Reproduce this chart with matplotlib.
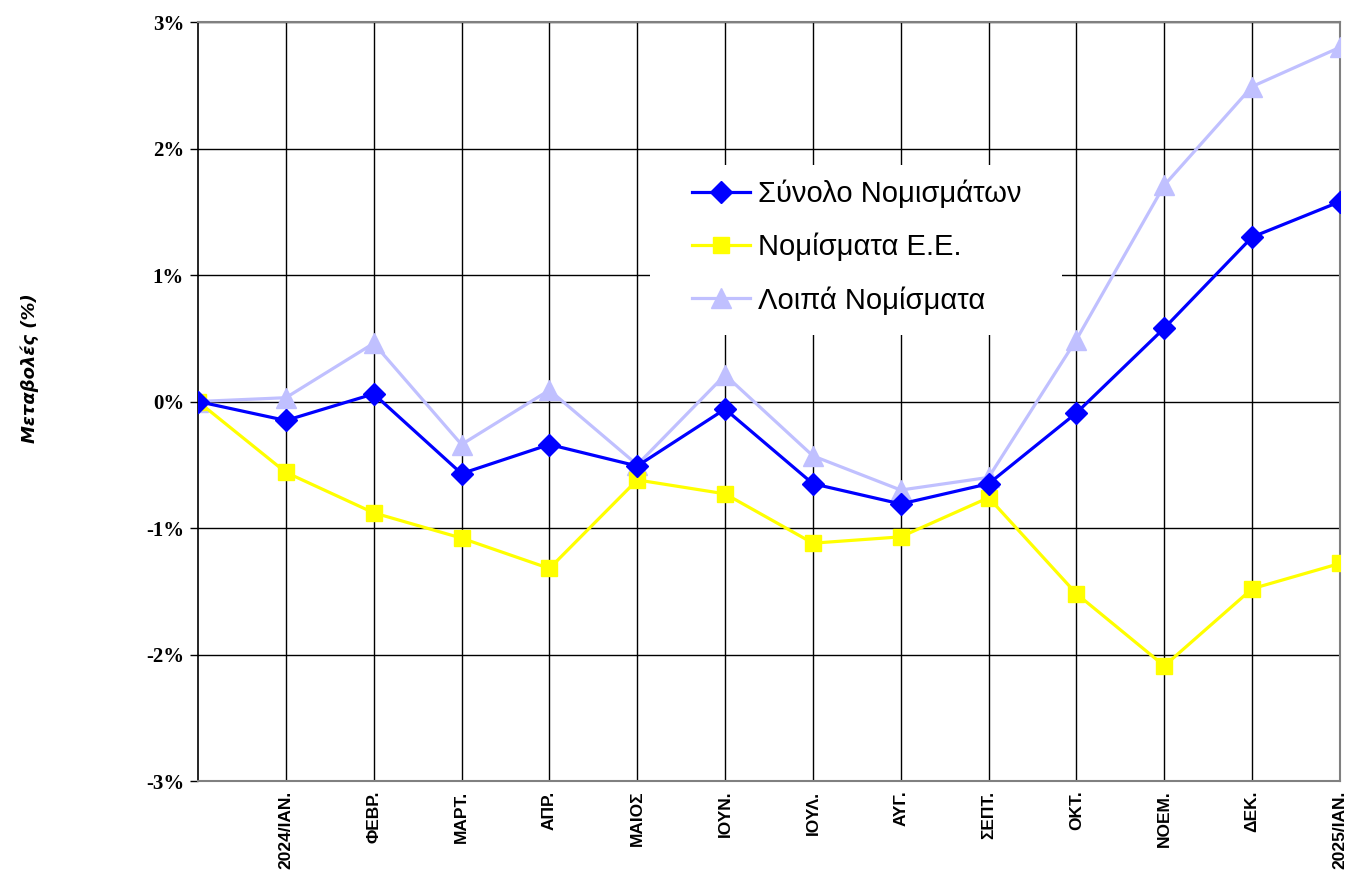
import matplotlib
matplotlib.use("Agg")
import matplotlib.pyplot as plt
from matplotlib.ticker import FuncFormatter
from matplotlib.patches import Rectangle

months = ["", "2024/ΙΑΝ.", "ΦΕΒΡ.", "ΜΑΡΤ.", "ΑΠΡ.", "ΜΑΙΟΣ", "ΙΟΥΝ.", "ΙΟΥΛ.",
          "ΑΥΓ.", "ΣΕΠΤ.", "ΟΚΤ.", "ΝΟΕΜ.", "ΔΕΚ.", "2025/ΙΑΝ."]
total = [0.00, -0.15, 0.06, -0.57, -0.34, -0.51, -0.06, -0.65, -0.81, -0.65, -0.09, 0.58, 1.30, 1.58]
eu = [0.00, -0.56, -0.88, -1.08, -1.32, -0.62, -0.73, -1.12, -1.07, -0.76, -1.52, -2.09, -1.48, -1.28]
other = [0.00, 0.03, 0.46, -0.34, 0.09, -0.50, 0.21, -0.43, -0.70, -0.60, 0.49, 1.71, 2.49, 2.80]
series_names = ["Σύνολο Νομισμάτων", "Νομίσματα Ε.Ε.", "Λοιπά Νομίσματα"]
yticks = [-3, -2, -1, 0, 1, 2, 3]

W, H = 1347, 871
fig = plt.figure(figsize=(W / 100, H / 100), dpi=100)
left, right, top, bottom = 198, 1340, 22, 781
ax = fig.add_axes([left / W, 1 - bottom / H, (right - left) / W, (bottom - top) / H])

x = list(range(len(months)))
ax.plot(x, other, color="#C0C0FF", lw=2.3, marker="^", ms=14, zorder=3, label=series_names[2])
ax.plot(x, eu, color="#FFFF00", lw=2.3, marker="s", ms=12, zorder=4, label=series_names[1])
ax.plot(x, total, color="#0000FF", lw=2.3, marker="D", ms=11, zorder=5, label=series_names[0])

ax.set_xlim(0, len(months) - 1)
ax.set_ylim(-3, 3)
ax.set_yticks(yticks)
ax.yaxis.set_major_formatter(FuncFormatter(lambda v, p: f"{int(round(v))}%"))
for lab in ax.get_yticklabels():
    lab.set_fontfamily("Liberation Serif")
    lab.set_fontweight("bold")
    lab.set_fontsize(15)
ax.tick_params(axis="y", direction="out", length=6, width=1, color="black", pad=4)

ax.set_xticks(x[1:])
ax.set_xticklabels(months[1:], rotation=90, fontfamily="Liberation Sans",
                   fontweight="bold", fontsize=12.5, va="top", ha="center")
ax.tick_params(axis="x", length=0, pad=7)

ax.grid(True, color="black", lw=1.0, zorder=1)
ax.set_axisbelow(True)
for s in ["top", "right", "bottom"]:
    ax.spines[s].set_color("#808080")
    ax.spines[s].set_linewidth(1.5)
ax.spines["left"].set_color("black")
ax.spines["left"].set_linewidth(1.2)

# white legend background
ax.add_patch(Rectangle((0.396, 0.5876), 0.3606, 0.224, transform=ax.transAxes,
                       facecolor="white", edgecolor="none", zorder=2))

handles, labels = ax.get_legend_handles_labels()
order = [2, 1, 0]
leg = ax.legend([handles[i] for i in order], [labels[i] for i in order],
                loc="center left", bbox_to_anchor=(0.4326, 0.7036),
                prop={"family": "Liberation Sans", "size": 21},
                frameon=False, handlelength=2.0, handletextpad=0.25,
                labelspacing=0.85, borderpad=0, borderaxespad=0)
leg.set_zorder(6)

fig.text(30 / W, 1 - 368 / H, "Μεταβολές (%)", rotation=90, ha="center", va="center",
         fontfamily="DejaVu Sans", fontweight="bold", fontstyle="italic", fontsize=13)

fig.savefig("out.png", dpi=100)
